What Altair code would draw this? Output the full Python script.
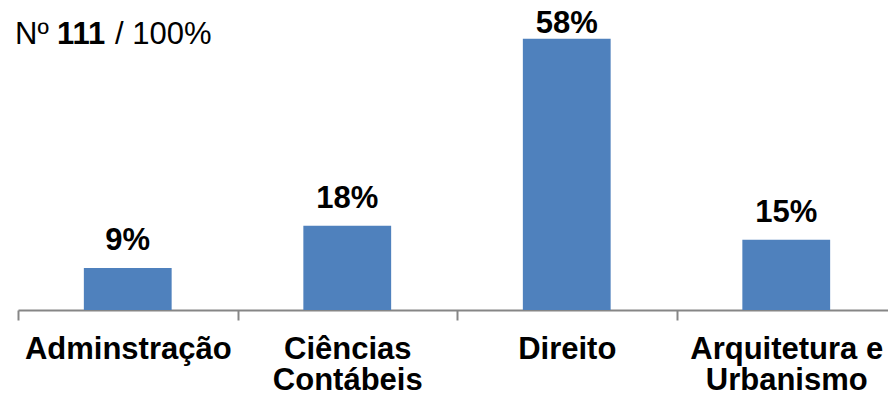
import altair as alt
import pandas as pd

# Course distribution (percent of 111 respondents)
courses = ["Adminstração", "Ciências\nContábeis", "Direito", "Arquitetura e\nUrbanismo"]
percents = [9, 18, 58, 15]

FONT = "Liberation Sans"
BAR_BLUE = "#4F81BD"
AXIS_GREY = "#868686"

df = pd.DataFrame({"course": courses, "pct": percents})
df["label"] = df["pct"].astype(str) + "%"

# Unpadded bands so the ticks fall on the category boundaries; bars take 40% of each band
x_scale = alt.Scale(domain=courses, range=[0, 878], paddingInner=0, paddingOuter=0)
y_scale = alt.Scale(domain=[0, 66.3])

base = alt.Chart(df).encode(
    x=alt.X(
        "course:N",
        sort=courses,
        scale=x_scale,
        axis=alt.Axis(
            title=None,
            labelAngle=0,
            labelExpr="split(datum.label, '\\n')",
            labelFont=FONT,
            labelFontSize=31,
            labelFontWeight="bold",
            labelColor="#000000",
            labelBaseline="top",
            labelLineHeight=31,
            labelPadding=14,
            labelLimit=400,
            domainColor=AXIS_GREY,
            domainWidth=2,
            tickColor=AXIS_GREY,
            tickWidth=2,
            tickSize=10,
            tickBand="extent",
            grid=False,
        ),
    )
)

bars = base.mark_bar(color=BAR_BLUE, width=alt.RelativeBandSize(0.4)).encode(
    y=alt.Y("pct:Q", scale=y_scale, axis=None)
)

# Value labels sit above each bar, kept inside the top of the plot area
labels = base.transform_calculate(
    label_pos="min(datum.pct, 55.4)"
).mark_text(
    font=FONT, fontSize=31, fontWeight="bold", color="#000000",
    baseline="alphabetic", dy=-18,
).encode(
    y=alt.Y("label_pos:Q", scale=y_scale, axis=None),
    text="label:N",
)

# Header: "Nº 111 / 100%" with the count in bold
title_df = pd.DataFrame({"t": [0]})
head_style = dict(font=FONT, fontSize=31, color="#000000", align="left", baseline="alphabetic")
head1 = alt.Chart(title_df).mark_text(text="Nº", **head_style).encode(
    x=alt.value(-3), y=alt.value(44))
head2 = alt.Chart(title_df).mark_text(text="111", fontWeight="bold", **head_style).encode(
    x=alt.value(39), y=alt.value(44))
head3 = alt.Chart(title_df).mark_text(text="/ 100%", **head_style).encode(
    x=alt.value(97), y=alt.value(44))

chart = (
    alt.layer(bars, labels, head1, head2, head3)
    .properties(
        width=870,
        height=310,
        autosize=alt.AutoSizeParams(type="none"),
        padding={"left": 18, "top": 0, "right": 0, "bottom": 89},
        background="#ffffff",
    )
    .configure_view(stroke=None)
)

chart.save("out.html", embed_options={"renderer": "svg", "actions": False})
